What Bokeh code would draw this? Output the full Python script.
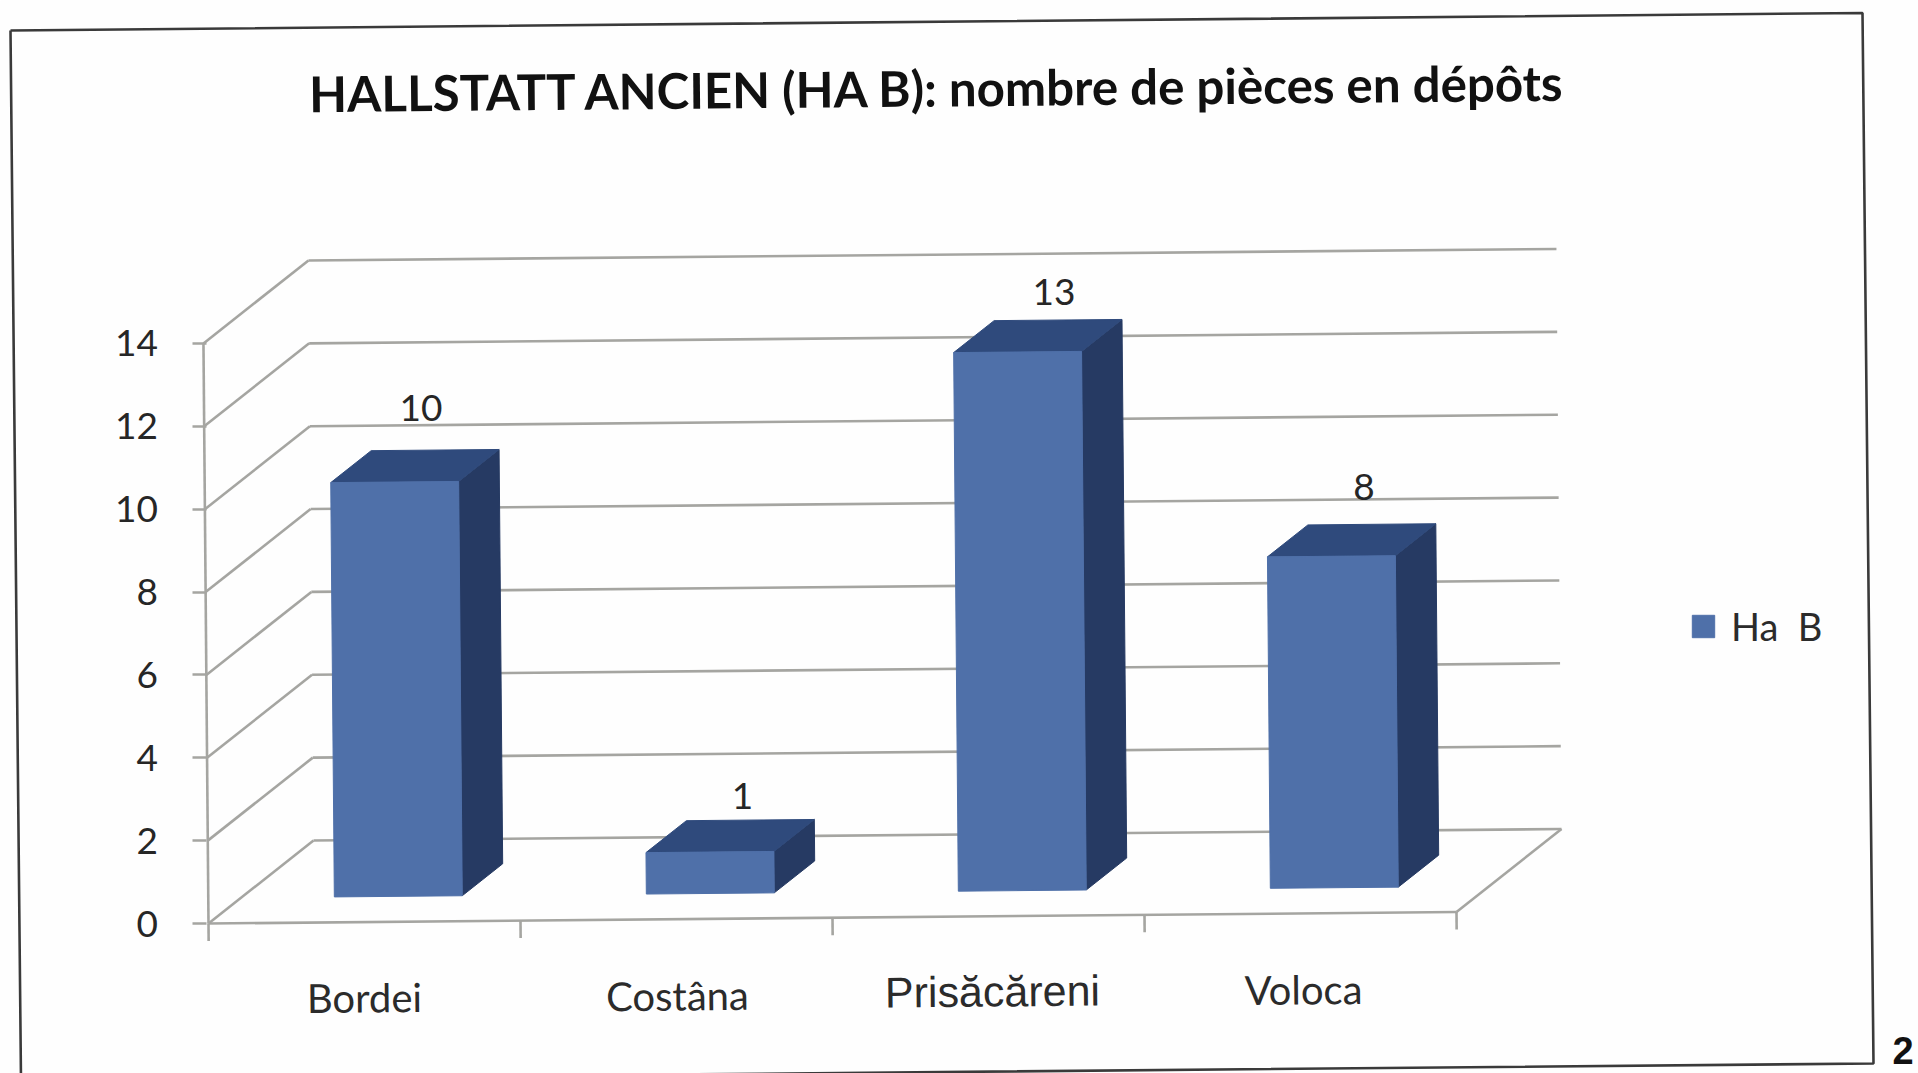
from bokeh.plotting import figure
from bokeh.embed import file_html
from bokeh.resources import INLINE
from bokeh.core.properties import value
from bokeh.models import Range1d, LinearAxis, FixedTicker, Legend, LegendItem

categories = ["Bordei", "Costâna", "Prisăcăreni", "Voloca"]
pieces = [10, 1, 13, 8]
y_ticks = [0, 2, 4, 6, 8, 10, 12, 14]
series_name = "Ha  B"
title_text = "HALLSTATT ANCIEN (HA B): nombre de pièces en dépôts"
page_number = "2"

# layout of the photographed page
W, H = 1918, 1073
X0, Y0 = 208.0, 923.0
UX, UY = 312.0, 41.43
DX, DY = 105.0 / UX, 83.0 / UY
LEAN, TILT = 0.36 / UX, 2.87 / UY
BAR_W, D_FRONT, D_BACK = 0.41, 0.31, 0.695
BAR_SHIFT = 0.004


def proj(c, v, d=0.0):
    return c + d * DX - v * LEAN, v + d * DY + c * TILT


def from_px(px, py):
    return (px - X0) / UX, (Y0 - py) / UY


p = figure(width=W, height=H, output_backend="svg", toolbar_location=None,
           x_range=Range1d(-X0 / UX, (W - X0) / UX),
           y_range=Range1d(-(H - Y0) / UY, Y0 / UY),
           x_axis_type=None, y_axis_type=None,
           min_border=0, outline_line_color=None,
           background_fill_color="#fefefe", border_fill_color="#fefefe")
p.grid.visible = False

# chart border of the scanned page
corners = [(10, 30), (1862, 12.5), (1873, 1063), (20.5, 1080)]
bx, by = zip(*[from_px(*c) for c in corners + corners[:1]])
p.line(bx, by, line_color="#3a3a3a", line_width=2.6)

# walls and floor
n = len(categories)
sx, sy, ex, ey = [], [], [], []
def seg(a, b):
    sx.append(a[0]); sy.append(a[1]); ex.append(b[0]); ey.append(b[1])
for v in y_ticks:
    seg(proj(0, v, 0), proj(0, v, 1))
    seg(proj(0, v, 1), proj(n, v, 1))
seg(proj(n, 0, 0), proj(n, 0, 1))
seg(proj(0, 0, 0), proj(n, 0, 0))
seg(proj(0, 0, 0), proj(0, 14, 0))
for c in range(n + 1):
    seg(proj(c, 0, 0), proj(c, -0.42, 0))
p.segment(sx, sy, ex, ey, line_color="#a5a5a1", line_width=2.6)

# 3D bars
front_x, front_y, top_x, top_y, side_x, side_y = [], [], [], [], [], []
for i, v in enumerate(pieces):
    l, r = i + 0.5 + BAR_SHIFT - BAR_W / 2, i + 0.5 + BAR_SHIFT + BAR_W / 2
    poly = [proj(l, 0, D_FRONT), proj(r, 0, D_FRONT), proj(r, v, D_FRONT), proj(l, v, D_FRONT)]
    front_x.append([a[0] for a in poly]); front_y.append([a[1] for a in poly])
    poly = [proj(l, v, D_FRONT), proj(r, v, D_FRONT), proj(r, v, D_BACK), proj(l, v, D_BACK)]
    top_x.append([a[0] for a in poly]); top_y.append([a[1] for a in poly])
    poly = [proj(r, 0, D_FRONT), proj(r, 0, D_BACK), proj(r, v, D_BACK), proj(r, v, D_FRONT)]
    side_x.append([a[0] for a in poly]); side_y.append([a[1] for a in poly])
p.patches(side_x, side_y, fill_color="#263a63", line_color="#263a63")
p.patches(top_x, top_y, fill_color="#2f4a7c", line_color="#2f4a7c")
bars = p.patches(front_x, front_y, fill_color="#4f70a9", line_color="#4f70a9")

# value labels
label_lift = [1.14, 0.7, 0.8, 1.02]
label_shift = [-0.02, 0.0, 0.012, 0.0]
lx, ly = zip(*[proj(i + 0.5 + label_shift[i], v + label_lift[i], D_BACK - 0.06) for i, v in enumerate(pieces)])
p.text(lx, ly, text=[str(v) for v in pieces], text_font=value("Lato"), text_font_size="37px",
       text_color="#262626", text_align="center", text_baseline="middle")

# y axis
axis = LinearAxis(ticker=FixedTicker(ticks=y_ticks), fixed_location=-0.008,
                  axis_line_color=None, major_tick_line_color="#a5a5a1", major_tick_line_width=2.6,
                  major_tick_out=14, major_tick_in=0, minor_tick_line_color=None,
                  major_label_standoff=34, major_label_text_font="Lato",
                  major_label_text_font_size="37px", major_label_text_color="#262626")
p.add_layout(axis, "left")

# category labels
cat_px = [(364, 997), (677, 995), (992, 991), (1303, 989)]
cx, cy = zip(*[from_px(*c) for c in cat_px])
for i, name in enumerate(categories):
    font, size = ("Liberation Sans", "43px") if i == 2 else ("Lato", "40px")
    p.text([cx[i]], [cy[i]], text=[name], text_font=value(font), text_font_size=size,
           text_color="#2b2b2b", text_align="center", text_baseline="middle", angle=0.009)

# title
tx, ty = from_px(938, 87)
p.text([tx], [ty], text=[title_text], text_font=value("Lato"), text_font_style="bold",
       text_font_size="49.3px", text_color="#111111", text_align="center",
       text_baseline="middle", angle=0.009)

# legend
legend = Legend(items=[LegendItem(label=series_name, renderers=[bars], index=0)],
                location=(1689, H - 649), background_fill_alpha=0, border_line_color=None,
                glyph_width=28, glyph_height=28, label_text_font="Lato", label_text_font_size="38px",
                label_text_color="#2b2b2b", spacing=0, padding=8, margin=0, label_standoff=14)
p.add_layout(legend, "center")

# page number
nx, ny = from_px(1892, 1050)
p.text([nx], [ny], text=[page_number], text_font=value("Liberation Sans"), text_font_style="bold",
       text_font_size="38px", text_color="#111111", text_align="left", text_baseline="middle")

open("out.html", "w").write(file_html(p, INLINE))
